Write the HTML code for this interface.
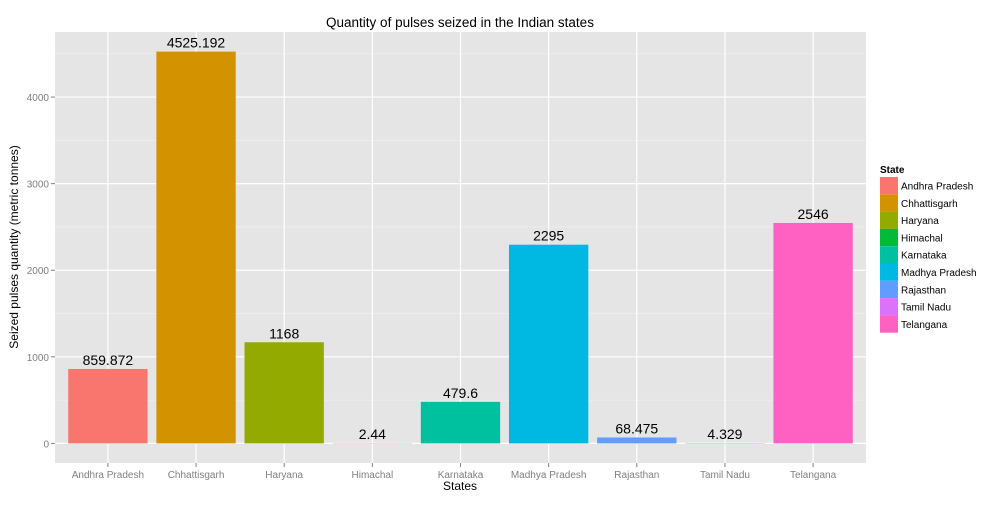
<!DOCTYPE html>
<html><head><meta charset="utf-8"><style>
body{margin:0;background:#fff;font-family:"Liberation Sans",Arial,sans-serif}
svg text{font-family:"Liberation Sans",Arial,sans-serif}
</style></head><body>
<svg id="chart" width="1008" height="504" xmlns="http://www.w3.org/2000/svg">
<rect width="1008" height="504" fill="#fff"/>
<g id="grid"></g>
<g id="bars"></g>
<g id="axes"></g>
<g id="legend"></g>
<text x="460" y="27" text-anchor="middle" font-size="13.5" fill="#000">Quantity of pulses seized in the Indian states</text>
<text x="460" y="490" text-anchor="middle" font-size="12" fill="#000">States</text>
<text transform="translate(18,247) rotate(-90)" text-anchor="middle" font-size="12" fill="#000">Seized pulses quantity (metric tonnes)</text>
</svg>
<script>
const categories=["Andhra Pradesh","Chhattisgarh","Haryana","Himachal","Karnataka","Madhya Pradesh","Rajasthan","Tamil Nadu","Telangana"];
const values=[859.872,4525.192,1168,2.44,479.6,2295,68.475,4.329,2546];
const valueLabels=["859.872","4525.192","1168","2.44","479.6","2295","68.475","4.329","2546"];
const colors=["#F8766D","#D39200","#93AA00","#00BA38","#00C19F","#00B9E3","#619CFF","#DB72FB","#FF61C3"];
const yTicks=[0,1000,2000,3000,4000];
const yMinor=[500,1500,2500,3500,4500];
const NS="http://www.w3.org/2000/svg";
const L=55,R=866,T=32,B=463;
const maxV=Math.max(...values);
const yMin=-maxV*0.05,yMax=maxV*1.05;
function y(v){return B-(v-yMin)/(yMax-yMin)*(B-T);}
const step=(R-L)/(categories.length+0.2);
function x(i){return L+step*(i+0.6);}
function mk(t,a,p){const e=document.createElementNS(NS,t);for(const k in a)e.setAttribute(k,a[k]);p.appendChild(e);return e;}
const grid=document.getElementById('grid'),bars=document.getElementById('bars'),axes=document.getElementById('axes'),leg=document.getElementById('legend');
let r=mk('rect',{x:L,y:T,width:R-L,height:B-T,fill:'#E5E5E5'},grid);


yMinor.forEach(v=>{let l=mk('line',{x1:L,x2:R,y1:y(v),y2:y(v),stroke:'#F2F2F2','stroke-width':0.6},grid);

});
yTicks.forEach(v=>{let l=mk('line',{x1:L,x2:R,y1:y(v),y2:y(v),stroke:'#fff','stroke-width':1.2},grid);


let tk=mk('line',{x1:L-4,x2:L,y1:y(v),y2:y(v),stroke:'#7F7F7F'},axes);


let t=mk('text',{x:L-6,y:y(v)+4,'text-anchor':'end','font-size':10,fill:'#7F7F7F'},axes);t.textContent=v;

});
categories.forEach((c,i)=>{let l=mk('line',{x1:x(i),x2:x(i),y1:T,y2:B,stroke:'#fff','stroke-width':1.2},grid);


let bw=step*0.9;
let b=mk('rect',{x:x(i)-bw/2,y:y(values[i]),width:bw,height:Math.max(0,y(0)-y(values[i])),fill:colors[i]},bars);


let vl=mk('text',{x:x(i),y:y(values[i])-4,'text-anchor':'middle','font-size':14,fill:'#000'},bars);vl.textContent=valueLabels[i];


let tk=mk('line',{x1:x(i),x2:x(i),y1:B,y2:B+4,stroke:'#7F7F7F'},axes);


let t=mk('text',{x:x(i),y:B+15,'text-anchor':'middle','font-size':10,fill:'#7F7F7F'},axes);t.textContent=c;


let k=mk('rect',{x:880,y:177+i*17.3,width:18,height:17.3,fill:colors[i]},leg);


let lt=mk('text',{x:901,y:177+i*17.3+12.5,'font-size':10,fill:'#000'},leg);lt.textContent=c;

});
let lt=mk('text',{x:880,y:173,'font-size':10,'font-weight':'bold',fill:'#000'},leg);lt.textContent='State';


</script>
</body></html>
